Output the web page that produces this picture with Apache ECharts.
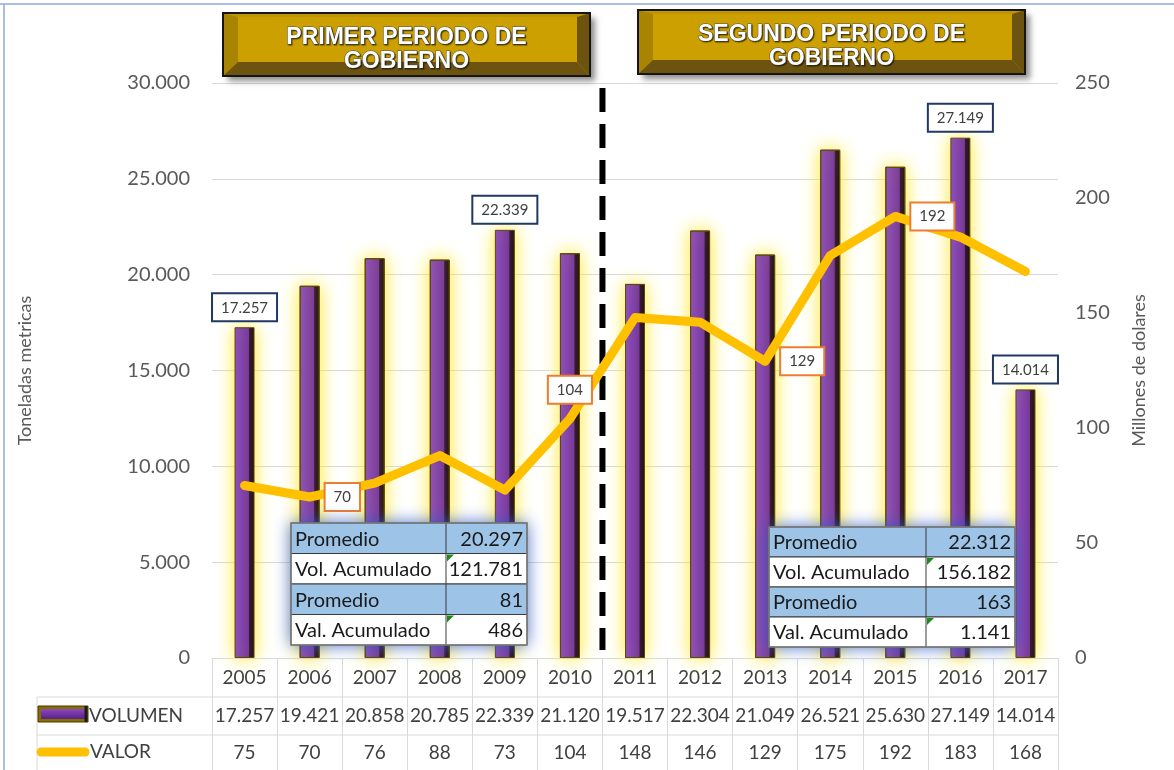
<!DOCTYPE html>
<html>
<head>
<meta charset="utf-8">
<script src="https://cdn.jsdelivr.net/npm/echarts@6/dist/echarts.min.js"></script>
<style>
  html, body { margin: 0; padding: 0; background: #fff; }
  #main { width: 1174px; height: 770px; }
</style>
</head>
<body>
<div id="main"></div>
<script>
// datos
var anios = ['2005', '2006', '2007', '2008', '2009', '2010', '2011', '2012', '2013', '2014', '2015', '2016', '2017']
var volumen = [17257, 19421, 20858, 20785, 22339, 21120, 19517, 22304, 21049, 26521, 25630, 27149, 14014]
var valor = [75, 70, 76, 88, 73, 104, 148, 146, 129, 175, 192, 183, 168]
var volConEtiqueta = [0, 4, 11, 12]
var valConEtiqueta = [1, 5, 8, 10]
var tablaEtiquetas = ['Promedio', 'Vol. Acumulado', 'Promedio', 'Val. Acumulado']
var tabla1Valores = ['20.297', '121.781', '81', '486']
var tabla2Valores = ['22.312', '156.182', '163', '1.141']
var titulos = ['PRIMER PERIODO DE\nGOBIERNO', 'SEGUNDO PERIODO DE\nGOBIERNO']

var FUENTE = 'Lato, "Open Sans", sans-serif'
var GRIS = '#595959'

function puntos(n) {
    return String(n).replace(/\B(?=(\d{3})+(?!\d))/g, '.')
}

var chart = echarts.init(document.getElementById('main'))

var barData = volumen.map(function(v, i) {
    if (volConEtiqueta.indexOf(i) >= 0) {
        return { value: v, label: { show: true } }
    }
    return v
})
var lineData = valor.map(function(v, i) {
    if (valConEtiqueta.indexOf(i) >= 0) {
        // 104 va arriba, el resto a la derecha
        return { value: v, label: { show: true, position: i === 5 ? 'top' : 'right' } }
    }
    return v
})

var etiquetaCaja = {
    fontFamily: FUENTE,
    fontSize: 15,
    color: '#404040',
    backgroundColor: '#fff',
    borderWidth: 2,
    padding: [6, 8, 5, 8],
}

var option = {
    animation: false,
    backgroundColor: '#fff',
    grid: { left: 212, right: 116, top: 83, bottom: 112 },
    xAxis: [
        {
            type: 'category',
            data: anios,
            axisLine: { lineStyle: { color: '#d9d9d9', width: 1 } },
            axisTick: { show: true, length: 112, lineStyle: { color: '#d9d9d9' } },
            axisLabel: { margin: 10, fontFamily: FUENTE, fontSize: 19, color: '#404040', interval: 0 },
        },
        {
            type: 'category',
            data: anios,
            position: 'bottom',
            offset: 38,
            axisLine: { show: false },
            axisTick: { show: false },
            axisLabel: {
                margin: 10, fontFamily: FUENTE, fontSize: 19, color: '#404040', interval: 0,
                formatter: function(v, i) { return puntos(volumen[i]) },
            },
        },
        {
            type: 'category',
            data: anios,
            position: 'bottom',
            offset: 75,
            axisLine: { show: false },
            axisTick: { show: false },
            axisLabel: {
                margin: 10, fontFamily: FUENTE, fontSize: 19, color: '#404040', interval: 0,
                formatter: function(v, i) { return String(valor[i]) },
            },
        },
    ],
    yAxis: [
        {
            type: 'value',
            min: 0,
            max: 30000,
            interval: 5000,
            name: 'Toneladas metricas',
            nameLocation: 'middle',
            nameRotate: 90,
            nameGap: 178,
            nameTextStyle: { fontFamily: FUENTE, fontSize: 18, color: GRIS },
            axisLine: { show: false },
            axisTick: { show: false },
            axisLabel: { margin: 22, fontFamily: FUENTE, fontSize: 20, color: GRIS, formatter: puntos },
            splitLine: { lineStyle: { color: '#d9d9d9', width: 1 } },
        },
        {
            type: 'value',
            min: 0,
            max: 250,
            interval: 50,
            position: 'right',
            name: 'Millones de dolares',
            nameLocation: 'middle',
            nameRotate: 90,
            nameGap: 72,
            nameTextStyle: { fontFamily: FUENTE, fontSize: 18, color: GRIS },
            axisLine: { show: false },
            axisTick: { show: false },
            axisLabel: { margin: 17, fontFamily: FUENTE, fontSize: 20, color: GRIS },
            splitLine: { show: false },
        },
    ],
    series: [
        {
            name: 'VOLUMEN',
            type: 'bar',
            barWidth: 20,
            z: 2,
            itemStyle: {
                color: new echarts.graphic.LinearGradient(0, 0, 1, 0, [
                    { offset: 0, color: '#8a48c4' },
                    { offset: 0.7, color: '#7030a0' },
                    { offset: 0.75, color: '#2b0d33' },
                    { offset: 1, color: '#16070f' },
                ]),
                borderColor: '#5c4a00',
                borderWidth: 1,
                shadowBlur: 18,
                shadowColor: 'rgba(255, 232, 40, 1)',
            },
            label: Object.assign({
                show: false,
                position: 'top',
                distance: 7,
                borderColor: '#1f3864',
                formatter: function(p) { return puntos(p.value) },
            }, etiquetaCaja),
            data: barData,
        },
        {
            name: 'VALOR',
            type: 'line',
            yAxisIndex: 1,
            z: 3,
            showSymbol: true,
            symbol: 'circle',
            symbolSize: 2,
            lineStyle: { color: '#ffc000', width: 9, cap: 'round', join: 'round' },
            itemStyle: { color: '#ffc000' },
            label: Object.assign({
                show: false,
                distance: 15,
                borderColor: '#ed7d31',
            }, etiquetaCaja),
            data: lineData,
        },
    ],
}

chart.setOption(option)

// ---- adornos: titulos, linea divisoria, tabla de datos y cuadros resumen ----
function cajaTitulo(x, y, w, h, texto) {
    var l = 15, t = 4, r = 13, b = 14
    var z = 10
    return [
        { type: 'rect', z: z, shape: { x: x, y: y, width: w, height: h },
          style: { fill: '#cca000', shadowBlur: 6, shadowOffsetX: 5, shadowOffsetY: 5, shadowColor: 'rgba(0,0,0,0.45)' } },
        { type: 'polygon', z: z, shape: { points: [[x, y], [x + w, y], [x + w - r, y + t], [x + l, y + t]] }, style: { fill: '#bf9500' } },
        { type: 'polygon', z: z, shape: { points: [[x, y], [x + l, y + t], [x + l, y + h - b], [x, y + h]] }, style: { fill: '#a98400' } },
        { type: 'polygon', z: z, shape: { points: [[x + w, y], [x + w, y + h], [x + w - r, y + h - b], [x + w - r, y + t]] }, style: { fill: '#6d5310' } },
        { type: 'polygon', z: z, shape: { points: [[x, y + h], [x + l, y + h - b], [x + w - r, y + h - b], [x + w, y + h]] }, style: { fill: '#6d5310' } },
        { type: 'rect', z: z, shape: { x: x, y: y, width: w, height: h }, style: { fill: null, stroke: '#151515', lineWidth: 2 } },
        { type: 'text', z: z + 1, x: x + w / 2, y: y + 13,
          style: { text: texto, fill: '#fff', stroke: '#555', lineWidth: 1, align: 'center', verticalAlign: 'top',
                   font: 'bold 23px "Liberation Sans", Arial, sans-serif', lineHeight: 24,
                   textShadowColor: 'rgba(0,0,0,0.5)', textShadowOffsetX: 1, textShadowOffsetY: 1, textShadowBlur: 1 } },
    ]
}

function cuadroResumen(x, y, w1, w2, hFila, valores) {
    var hijos = []
    var w = w1 + w2
    var z = 20
    hijos.push({ type: 'rect', z: z, shape: { x: x, y: y, width: w, height: hFila * 4 },
                 style: { fill: '#fff', shadowBlur: 16, shadowColor: 'rgba(50, 90, 200, 0.9)' } })
    tablaEtiquetas.forEach(function(et, i) {
        var fy = y + i * hFila
        hijos.push({ type: 'rect', z: z + 1, shape: { x: x, y: fy, width: w, height: hFila },
                     style: { fill: i % 2 === 0 ? '#9dc3e6' : '#fff', stroke: '#3a3a3a', lineWidth: 1 } })
        hijos.push({ type: 'text', z: z + 2, x: x + 4, y: fy + hFila / 2 + 1,
                     style: { text: et, fill: '#1a1a1a', font: '20px ' + FUENTE, verticalAlign: 'middle' } })
        hijos.push({ type: 'text', z: z + 2, x: x + w - 4, y: fy + hFila / 2 + 1,
                     style: { text: valores[i], fill: '#1a1a1a', font: '20px ' + FUENTE, align: 'right', verticalAlign: 'middle' } })
        if (i % 2 === 1) {
            hijos.push({ type: 'polygon', z: z + 2, shape: { points: [[x + w1 + 1, fy + 1], [x + w1 + 8, fy + 1], [x + w1 + 1, fy + 8]] },
                         style: { fill: '#1e8a1e' } })
        }
    })
    hijos.push({ type: 'line', z: z + 2, shape: { x1: x + w1, y1: y, x2: x + w1, y2: y + hFila * 4 }, style: { stroke: '#3a3a3a', lineWidth: 1 } })
    hijos.push({ type: 'rect', z: z + 3, shape: { x: x, y: y, width: w, height: hFila * 4 }, style: { fill: null, stroke: '#7f7f7f', lineWidth: 1.5 } })
    return hijos
}

var xs = anios.map(function(a, i) { return chart.convertToPixel({ xAxisIndex: 0 }, i) })
var xDivision = (xs[5] + xs[6]) / 2
var xFin = chart.convertToPixel({ xAxisIndex: 0 }, 12) + (xs[1] - xs[0]) / 2
var yCero = chart.convertToPixel({ yAxisIndex: 0 }, 0)
var lineaTabla = { stroke: '#d9d9d9', lineWidth: 1 }

var graficos = [
    { type: 'line', z: 0, shape: { x1: 0, y1: 4, x2: 1174, y2: 4 }, style: { stroke: '#8faadc', lineWidth: 1.5 } },
    { type: 'line', z: 0, shape: { x1: 4, y1: 4, x2: 4, y2: 770 }, style: { stroke: '#8faadc', lineWidth: 1.5 } },
    { type: 'line', z: 1, shape: { x1: xDivision, y1: 88, x2: xDivision, y2: 650 },
      style: { stroke: '#000', lineWidth: 6, lineDash: [24, 12] } },
    // filas de la tabla de datos
    { type: 'line', shape: { x1: 37, y1: yCero + 39, x2: xFin, y2: yCero + 39 }, style: lineaTabla },
    { type: 'line', shape: { x1: 37, y1: yCero + 77, x2: xFin, y2: yCero + 77 }, style: lineaTabla },
    { type: 'line', shape: { x1: 37, y1: yCero + 39, x2: 37, y2: 770 }, style: lineaTabla },
    // clave VOLUMEN
    { type: 'rect', shape: { x: 38, y: yCero + 48, width: 50, height: 16 },
      style: { fill: '#8a6d00', stroke: '#4a3a00', lineWidth: 1 } },
    { type: 'rect', shape: { x: 41, y: yCero + 51, width: 44, height: 10 },
      style: { fill: new echarts.graphic.LinearGradient(0, 0, 0, 1, [
          { offset: 0, color: '#8a48c4' }, { offset: 1, color: '#5a2286' }]) } },
    { type: 'line', shape: { x1: 86, y1: yCero + 48, x2: 86, y2: yCero + 64 }, style: { stroke: '#1a1a1a', lineWidth: 3 } },
    { type: 'text', x: 89, y: yCero + 58, style: { text: 'VOLUMEN', fill: '#404040', font: '19px ' + FUENTE, verticalAlign: 'middle' } },
    // clave VALOR
    { type: 'line', shape: { x1: 41, y1: yCero + 94, x2: 85, y2: yCero + 94 },
      style: { stroke: '#ffc000', lineWidth: 9, lineCap: 'round' } },
    { type: 'text', x: 90, y: yCero + 94, style: { text: 'VALOR', fill: '#404040', font: '19px ' + FUENTE, verticalAlign: 'middle' } },
]
    .concat(cajaTitulo(223, 13, 367, 63, titulos[0]))
    .concat(cajaTitulo(638, 10, 387, 64, titulos[1]))
    .concat(cuadroResumen(291, 523, 155, 81, 30.5, tabla1Valores))
    .concat(cuadroResumen(769, 527, 157, 89, 30, tabla2Valores))

chart.setOption({ graphic: graficos })
</script>
</body>
</html>
